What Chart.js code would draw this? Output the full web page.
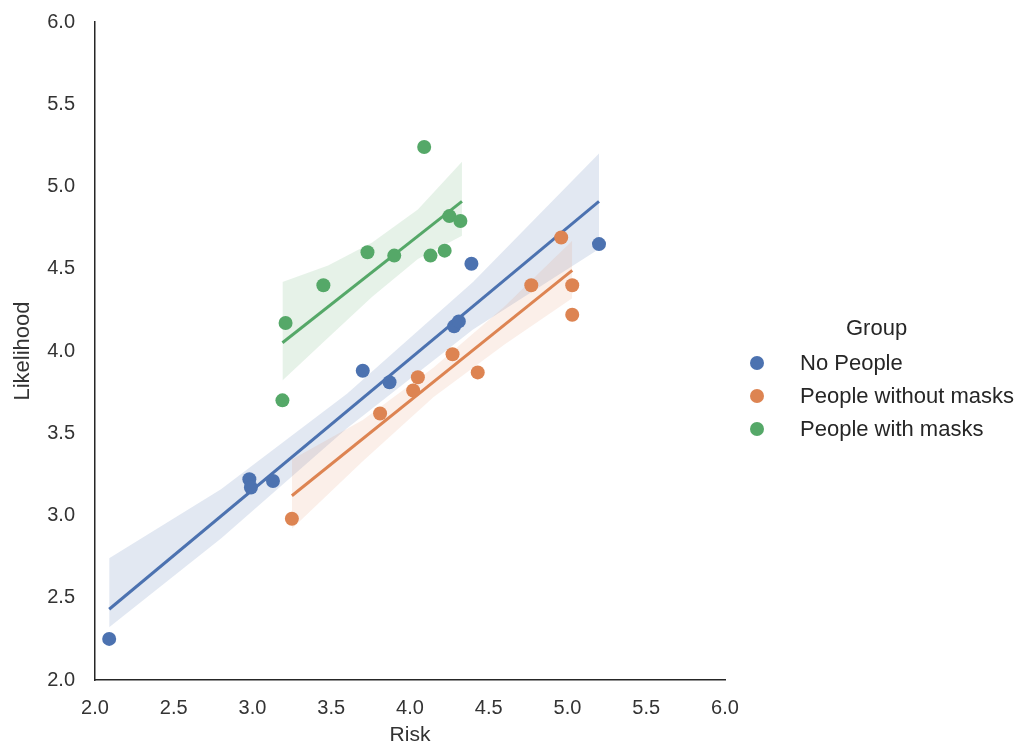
<!DOCTYPE html>
<html>
<head>
<meta charset="utf-8">
<script src="https://cdn.jsdelivr.net/npm/chart.js@4.4.1/dist/chart.umd.min.js"></script>
<style>
  body { margin: 0; background: #fff; font-family: "Liberation Sans", Arial, sans-serif; }
  #wrap { position: relative; width: 1027px; height: 749px; }
  #legende { position: absolute; left: 745px; top: 315px; color: #262626; font-size: 22px; }
  #legende .titre { position: absolute; left: 101px; top: 0; white-space: nowrap; }
  #legende .item { position: absolute; left: 0; white-space: nowrap; height: 26px; line-height: 26px; }
  #legende .rond { position: absolute; left: 5px; top: 6px; width: 14px; height: 14px; border-radius: 50%; }
  #legende .texte { position: absolute; left: 55px; top: 0; }
</style>
</head>
<body>
<div id="wrap">
  <canvas id="monGraphique" width="1027" height="749"></canvas>
  <div id="legende"></div>
</div>
<script>
// groupes et couleurs (seaborn deep)
const groupes = ['No People', 'People without masks', 'People with masks'];
const couleurs = ['#4C72B0', '#DD8452', '#55A868'];
const couleursBande = ['rgba(76,114,176,0.16)', 'rgba(221,132,82,0.13)', 'rgba(85,168,104,0.15)'];

// No People
const noPeopleRisk = [2.09, 2.98, 2.99, 3.13, 3.70, 3.87, 4.28, 4.31, 4.39, 5.20];
const noPeopleLikelihood = [2.25, 3.22, 3.17, 3.21, 3.88, 3.81, 4.15, 4.18, 4.53, 4.65];
const noPeopleFitX = [2.09, 5.20];
const noPeopleFitY = [2.43, 4.91];
const noPeopleBandX = [2.09, 2.8, 3.6, 4.4, 5.20];
const noPeopleBandHigh = [2.74, 3.16, 3.74, 4.42, 5.20];
const noPeopleBandLow = [2.32, 2.86, 3.53, 4.13, 4.62];

// People without masks
const sansMasqueRisk = [3.25, 3.81, 4.02, 4.05, 4.27, 4.43, 4.77, 4.96, 5.03, 5.03];
const sansMasqueLikelihood = [2.98, 3.62, 3.76, 3.84, 3.98, 3.87, 4.40, 4.69, 4.40, 4.22];
const sansMasqueFitX = [3.25, 5.03];
const sansMasqueFitY = [3.12, 4.49];
const sansMasqueBandX = [3.25, 3.7, 4.15, 4.6, 5.03];
const sansMasqueBandHigh = [3.34, 3.58, 3.90, 4.27, 4.67];
const sansMasqueBandLow = [2.92, 3.33, 3.72, 4.04, 4.32];

// People with masks
const avecMasqueRisk = [3.19, 3.21, 3.45, 3.73, 3.90, 4.09, 4.13, 4.22, 4.25, 4.32];
const avecMasqueLikelihood = [3.70, 4.17, 4.40, 4.60, 4.58, 5.24, 4.58, 4.61, 4.82, 4.79];
const avecMasqueFitX = [3.19, 4.33];
const avecMasqueFitY = [4.05, 4.91];
const avecMasqueBandX = [3.19, 3.48, 3.76, 4.05, 4.33];
const avecMasqueBandHigh = [4.42, 4.52, 4.66, 4.86, 5.15];
const avecMasqueBandLow = [3.82, 4.08, 4.33, 4.56, 4.70];

// axes
const risqueTicks = [2.0, 2.5, 3.0, 3.5, 4.0, 4.5, 5.0, 5.5, 6.0];
const vraisemblanceTicks = [2.0, 2.5, 3.0, 3.5, 4.0, 4.5, 5.0, 5.5, 6.0];

function points(xs, ys) {
    return xs.map((x, i) => ({ x: x, y: ys[i] }));
}

const series = [
    [noPeopleRisk, noPeopleLikelihood, noPeopleFitX, noPeopleFitY, noPeopleBandX, noPeopleBandHigh, noPeopleBandLow],
    [sansMasqueRisk, sansMasqueLikelihood, sansMasqueFitX, sansMasqueFitY, sansMasqueBandX, sansMasqueBandHigh, sansMasqueBandLow],
    [avecMasqueRisk, avecMasqueLikelihood, avecMasqueFitX, avecMasqueFitY, avecMasqueBandX, avecMasqueBandHigh, avecMasqueBandLow]
];

const datasets = [];
series.forEach((s, g) => {
    // bande de confiance
    datasets.push({
        label: groupes[g] + ' haut', data: points(s[4], s[5]), showLine: true,
        borderWidth: 0, pointRadius: 0, backgroundColor: couleursBande[g],
        fill: '+1', order: 10 - g
    });
    datasets.push({
        label: groupes[g] + ' bas', data: points(s[4], s[6]), showLine: true,
        borderWidth: 0, pointRadius: 0, fill: false, order: 10 - g
    });
    // droite de régression
    datasets.push({
        label: groupes[g] + ' droite', data: points(s[2], s[3]), showLine: true,
        borderColor: couleurs[g], borderWidth: 3, pointRadius: 0, fill: false, order: 6 - g
    });
    // nuage de points
    datasets.push({
        label: groupes[g], data: points(s[0], s[1]), showLine: false,
        backgroundColor: couleurs[g], borderColor: couleurs[g], borderWidth: 0,
        pointRadius: 7, order: 3 - g
    });
});

new Chart(document.getElementById('monGraphique'), {
    type: 'scatter',
    data: { datasets: datasets },
    options: {
        responsive: false,
        animation: false,
        layout: { padding: { left: 6, right: 302, top: 22, bottom: 0 } },
        plugins: { legend: { display: false }, tooltip: { enabled: false } },
        scales: {
            x: {
                type: 'linear', min: 2, max: 6,
                afterBuildTicks: axis => { axis.ticks = risqueTicks.map(v => ({ value: v })); },
                afterFit: axis => { axis.height = 69; },
                grid: { display: false, drawTicks: false },
                border: { display: true, color: '#262626', width: 1.5 },
                ticks: {
                    color: '#333', padding: 16,
                    font: { family: 'Liberation Sans', size: 20 },
                    callback: v => v.toFixed(1)
                },
                title: { display: true, text: 'Risk', color: '#333', padding: { top: 0, bottom: 1 },
                         font: { family: 'Liberation Sans', size: 21 } }
            },
            y: {
                type: 'linear', min: 2, max: 6,
                afterBuildTicks: axis => { axis.ticks = vraisemblanceTicks.map(v => ({ value: v })); },
                afterFit: axis => { axis.width = 89; axis.paddingTop = 0; axis.paddingBottom = 0; },
                grid: { display: false, drawTicks: false },
                border: { display: true, color: '#262626', width: 1.5 },
                ticks: {
                    color: '#333', padding: 20,
                    font: { family: 'Liberation Sans', size: 20 },
                    callback: v => v.toFixed(1)
                },
                title: { display: true, text: 'Likelihood', color: '#333', padding: { top: 4, bottom: 4 },
                         font: { family: 'Liberation Sans', size: 22 } }
            }
        }
    }
});

// légende à droite
const legende = document.getElementById('legende');
const titre = document.createElement('div');
titre.className = 'titre';
titre.textContent = 'Group';
legende.appendChild(titre);
groupes.forEach((nom, i) => {
    const item = document.createElement('div');
    item.className = 'item';
    item.style.top = (35 + i * 33) + 'px';
    item.innerHTML = '<span class="rond" style="background:' + couleurs[i] + '"></span><span class="texte">' + nom + '</span>';
    legende.appendChild(item);
});
</script>
</body>
</html>
